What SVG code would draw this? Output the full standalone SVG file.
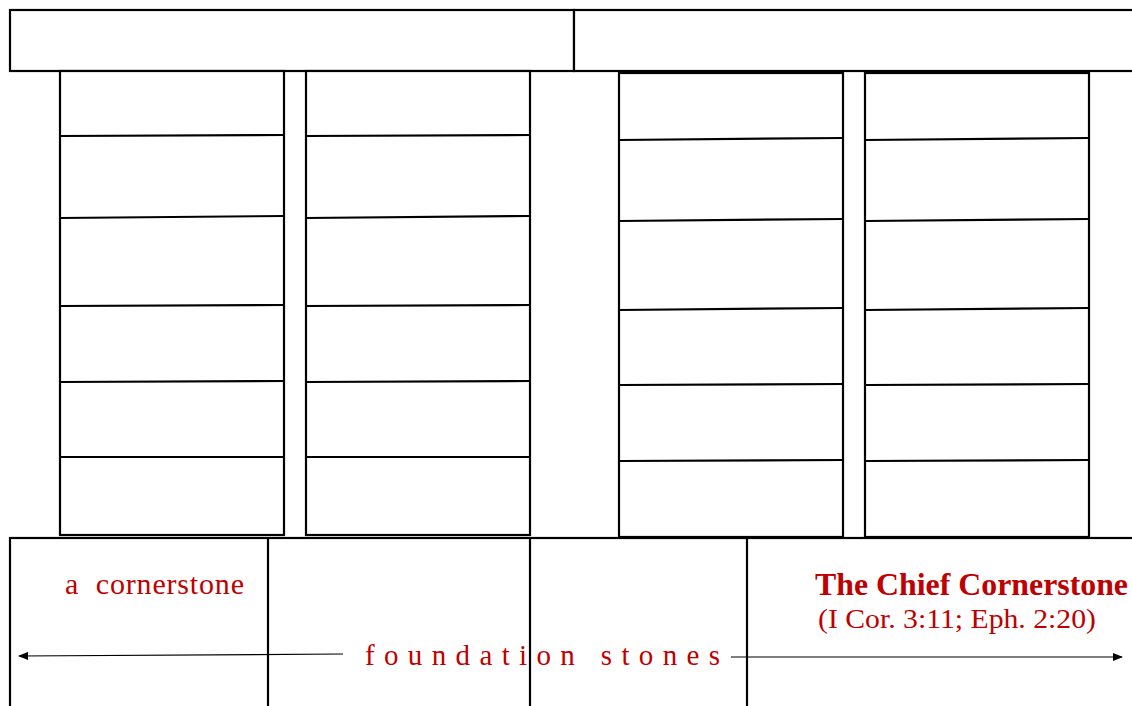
<svg xmlns="http://www.w3.org/2000/svg" width="1132" height="706" viewBox="0 0 1132 706">
<defs>
<style>
.s{fill:#fff;stroke:#000;stroke-width:2.2}
.l{stroke:#000;stroke-width:2.2}
.c{stroke:#000;stroke-width:1.2;fill:none}
.t{fill:#C00000;font-family:"Liberation Serif","Times New Roman",serif}
</style>
<marker id="ah" markerWidth="10" markerHeight="8" refX="9" refY="4" orient="auto" markerUnits="userSpaceOnUse">
<path d="M0,0 L10,4 L0,8 Z" fill="#000"/>
</marker>
</defs>
<rect width="1132" height="706" fill="#fff"/>
<g id="beam">
<rect class="s" x="10" y="10" width="564" height="61"/>
<rect class="s" x="574" y="10" width="570" height="61"/>
</g>
<g id="column1">
<rect class="s" x="60" y="71" width="224" height="464"/>
<line class="l" x1="60" y1="136" x2="284" y2="135"/>
<line class="l" x1="60" y1="218" x2="284" y2="216"/>
<line class="l" x1="60" y1="306" x2="284" y2="305"/>
<line class="l" x1="60" y1="382" x2="284" y2="381"/>
<line class="l" x1="60" y1="457" x2="284" y2="457"/>
</g>
<g id="column2">
<rect class="s" x="306" y="71" width="224" height="464"/>
<line class="l" x1="306" y1="136" x2="530" y2="135"/>
<line class="l" x1="306" y1="218" x2="530" y2="216"/>
<line class="l" x1="306" y1="306" x2="530" y2="305"/>
<line class="l" x1="306" y1="382" x2="530" y2="381"/>
<line class="l" x1="306" y1="457" x2="530" y2="457"/>
</g>
<g id="column3">
<rect class="s" x="619" y="73" width="224" height="464"/>
<line class="l" x1="619" y1="140" x2="843" y2="138"/>
<line class="l" x1="619" y1="221" x2="843" y2="219"/>
<line class="l" x1="619" y1="310" x2="843" y2="308"/>
<line class="l" x1="619" y1="385" x2="843" y2="384"/>
<line class="l" x1="619" y1="461" x2="843" y2="460"/>
</g>
<g id="column4">
<rect class="s" x="865" y="73" width="224" height="464"/>
<line class="l" x1="865" y1="140" x2="1089" y2="138"/>
<line class="l" x1="865" y1="221" x2="1089" y2="219"/>
<line class="l" x1="865" y1="310" x2="1089" y2="308"/>
<line class="l" x1="865" y1="385" x2="1089" y2="384"/>
<line class="l" x1="865" y1="461" x2="1089" y2="460"/>
</g>
<g id="foundation">
<rect class="s" x="10" y="538" width="1134" height="200"/>
<line class="l" x1="268" y1="538" x2="268" y2="706"/>
<line class="l" x1="530" y1="538" x2="530" y2="706"/>
<line class="l" x1="747" y1="538" x2="747" y2="706"/>
</g>
<g id="labels">
<text class="t" x="65" y="594" font-size="30" textLength="179" lengthAdjust="spacing" xml:space="preserve">a  cornerstone</text>
<text class="t" x="815" y="595" font-size="31" font-weight="bold" textLength="313" lengthAdjust="spacingAndGlyphs">The Chief Cornerstone</text>
<text class="t" x="818" y="628" font-size="28" textLength="278" lengthAdjust="spacingAndGlyphs">(I Cor. 3:11; Eph. 2:20)</text>
<text class="t" x="365" y="665" font-size="29" textLength="355" lengthAdjust="spacing">foundation stones</text>
</g>
<g id="connectors">
<line class="c" x1="343" y1="654" x2="19" y2="656" marker-end="url(#ah)"/>
<line class="c" x1="731" y1="657" x2="1122" y2="657" marker-end="url(#ah)"/>
</g>
</svg>
